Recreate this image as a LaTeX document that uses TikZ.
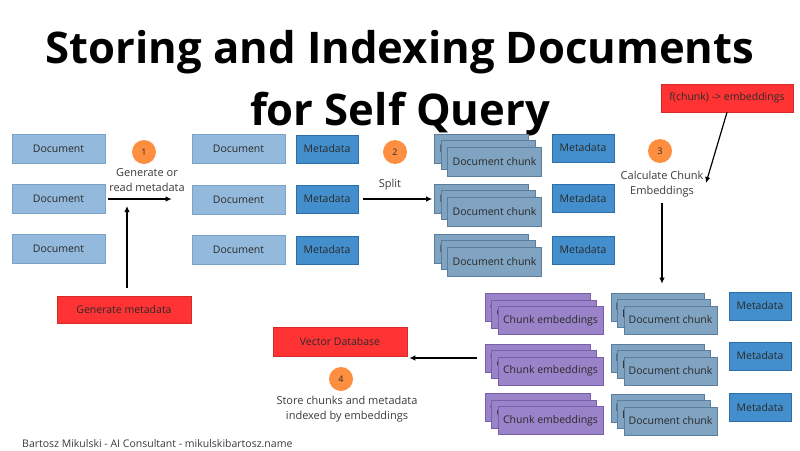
\documentclass[tikz,border=0pt]{standalone}
\usepackage{fontspec}
\setmainfont{Open Sans}
\usetikzlibrary{arrows.meta}
\definecolor{docf}{HTML}{93BADD}
\definecolor{docd}{HTML}{7AA3C9}
\definecolor{metaf}{HTML}{438FCD}
\definecolor{metad}{HTML}{2D6DA8}
\definecolor{chf}{HTML}{7FA3C1}
\definecolor{chd}{HTML}{5B7E9E}
\definecolor{embf}{HTML}{9A83C9}
\definecolor{embd}{HTML}{7860A8}
\definecolor{redf}{HTML}{FF3333}
\definecolor{redd}{HTML}{D42A2A}
\definecolor{orf}{HTML}{FF8F40}
\definecolor{txt}{HTML}{2A2A2A}
\definecolor{lbltxt}{HTML}{3A3A3A}
\newcommand\cardstack[5]{%
  \node[#4] (#1-a) at (#2-13,#3-13) {#5};
  \node[#4] (#1-b) at (#2-6.5,#3-6.5) {#5};
  \node[#4] (#1) at (#2,#3) {#5};}
\begin{document}
\begin{tikzpicture}[x=1pt,y=-1pt,
  box/.style={draw, line width=0.6pt, minimum height=28pt, inner sep=0pt, text=txt,
    font=\fontsize{10.5}{12}\selectfont},
  docbox/.style={box, fill=docf, draw=docd, minimum width=93pt, minimum height=29pt},
  metabox/.style={box, fill=metaf, draw=metad, minimum width=62pt},
  chunkbox/.style={box, fill=chf, draw=chd, minimum width=94pt, minimum height=29pt},
  chunkboxb/.style={box, fill=chf, draw=chd, minimum width=93pt},
  embbox/.style={box, fill=embf, draw=embd, minimum width=105pt},
  redbox/.style={box, fill=redf, draw=redd, minimum width=134pt},
  num/.style={circle, fill=orf, minimum size=24pt, inner sep=0pt, text=txt,
    font=\fontsize{9}{10}\selectfont},
  lbl/.style={align=center, text=lbltxt, font=\fontsize{11}{15}\selectfont},
  ttl/.style={anchor=base, text=black, font=\fontsize{43.6}{48}\selectfont\bfseries},
  arr/.style={-{Latex[length=6pt,width=5.5pt]}, line width=1.2pt, draw=black}]
\useasboundingbox (0,0) rectangle (800,450);
% title
\node[ttl] (t1) at (400,63) {Storing and Indexing Documents};
\node[ttl] (t2) at (400,125) {for Self Query};
% column 1 documents
\node[docbox] (d1) at (58.5,148.5) {Document};
\node[docbox] (d2) at (58.5,199) {Document};
\node[docbox] (d3) at (58.5,248.5) {Document};
% column 2 documents + metadata
\node[docbox] (e1) at (238.5,148.5) {Document};
\node[docbox] (e2) at (238.5,199.5) {Document};
\node[docbox] (e3) at (238.5,249.5) {Document};
\node[metabox] (m1) at (327,149) {Metadata};
\node[metabox] (m2) at (327,199) {Metadata};
\node[metabox] (m3) at (327,250) {Metadata};
% step 1
\node[num] (n1) at (144,152) {1};
\node[lbl] (l1) at (147,180.5) {Generate or\\read metadata};
\node[redbox, minimum height=27pt] (gm) at (124,309.5) {Generate metadata};
\coordinate (vt) at (127,206);
\draw[arr, shorten <=3pt, shorten >=20pt] (d2.east) -- (d2.east -| e2.west);
\draw[arr, shorten <=8pt] (gm.north -| vt) -- (vt);
% step 2
\node[num] (n2) at (395,152) {2};
\node[lbl] (l2) at (390,185) {Split};
\cardstack{c1}{494.5}{161.5}{chunkbox}{Document chunk}
\cardstack{c2}{494.5}{211.5}{chunkbox}{Document chunk}
\cardstack{c3}{494.5}{261.5}{chunkbox}{Document chunk}
\node[metabox] (p1) at (583,148) {Metadata};
\node[metabox] (p2) at (583,198.5) {Metadata};
\node[metabox] (p3) at (583,250) {Metadata};
\draw[arr, shorten <=5pt, shorten >=2pt] (m2.east) -- (m2.east -| c2-a.west);
% step 3
\node[num] (n3) at (660,151) {3};
\node[lbl] (l3) at (662,184.5) {Calculate Chunk\\Embeddings};
\node[redbox, minimum width=132pt] (fc) at (727,98) {f(chunk) -> embeddings};
\coordinate (fe) at (706,183);
\draw[arr] (fc.south) -- (fe);
\cardstack{g1}{550.5}{320.5}{embbox}{Chunk embeddings}
\cardstack{g2}{550.5}{371}{embbox}{Chunk embeddings}
\cardstack{g3}{550.5}{420.5}{embbox}{Chunk embeddings}
\cardstack{h1}{670.5}{320}{chunkboxb}{Document chunk}
\cardstack{h2}{670.5}{371}{chunkboxb}{Document chunk}
\cardstack{h3}{670.5}{421}{chunkboxb}{Document chunk}
\node[metabox] (q1) at (760,306) {Metadata};
\node[metabox] (q2) at (760,356) {Metadata};
\node[metabox] (q3) at (760,407.5) {Metadata};
\draw[arr, shorten <=2pt, shorten >=9pt] (l3.south) -- (l3.south |- h1-a.north);
% step 4
\node[redbox, minimum height=29pt] (vdb) at (340,341.5) {Vector Database};
\node[num] (n4) at (341,379) {4};
\node[lbl] (l4) at (347,409) {Store chunks and metadata\\indexed by embeddings};
\draw[arr, shorten <=8pt, shorten >=2pt] (g2-a.west) -- (g2-a.west -| vdb.east);
% footer
\node[anchor=base west, inner sep=0pt, text=lbltxt, font=\fontsize{10.5}{12}\selectfont] (ft) at (22,447) {Bartosz Mikulski - AI Consultant - mikulskibartosz.name};
\end{tikzpicture}
\end{document}
